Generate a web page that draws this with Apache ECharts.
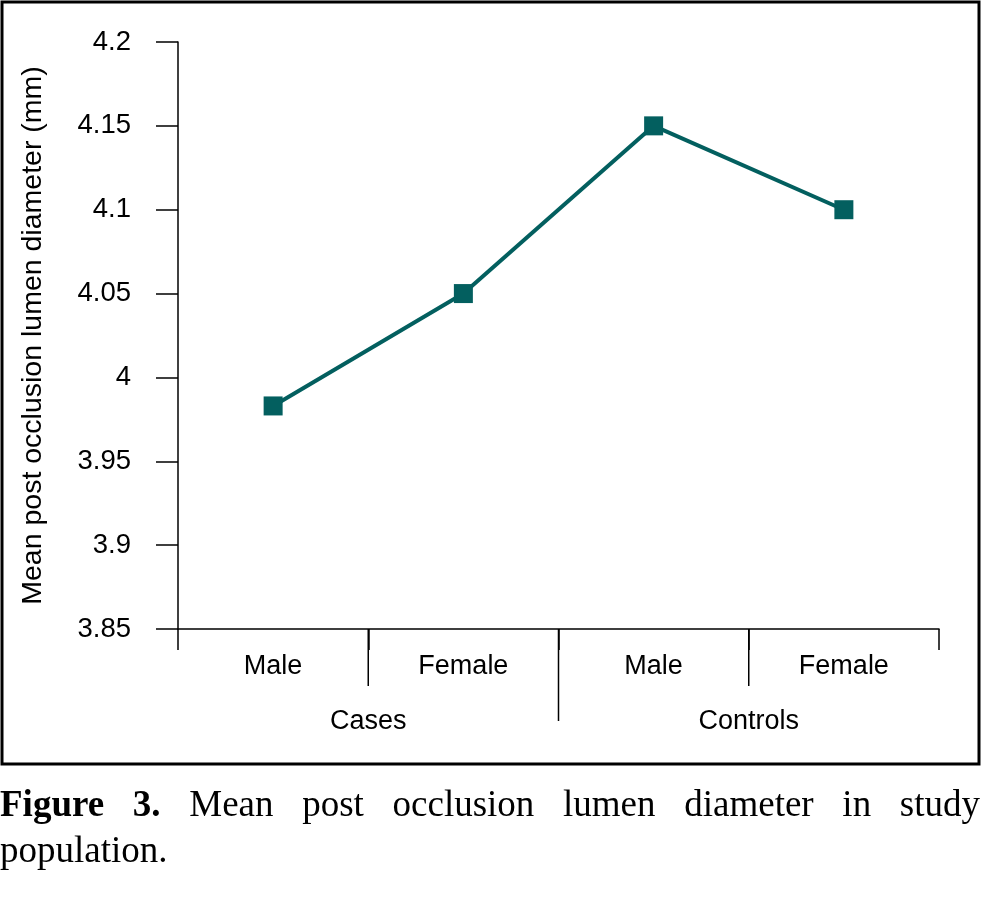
<!DOCTYPE html>
<html>
<head>
<meta charset="utf-8">
<script src="https://cdn.jsdelivr.net/npm/echarts@6/dist/echarts.min.js"></script>
<style>
  html, body { margin: 0; padding: 0; background: #fff; }
  #wrap { position: relative; width: 983px; height: 922px; }
  #chart { position: absolute; left: 0; top: 0; width: 983px; height: 922px; }
  #caption {
    position: absolute; left: 0; top: 781px; width: 980px;
    font-family: "Liberation Serif", "DejaVu Serif", serif;
    font-size: 37px; line-height: 46px; color: #000;
  }
  #caption .l1 { text-align: justify; text-align-last: justify; white-space: nowrap; }
  #caption .l2 { text-align: left; }
</style>
</head>
<body>
<div id="wrap">
  <div id="chart"></div>
  <div id="caption"><div class="l1"><b>Figure 3.</b> Mean post occlusion lumen diameter in study</div><div class="l2">population.</div></div>
</div>
<script>
// ---- data ----
var groups = ['Cases', 'Controls'];
var sexes = ['Male', 'Female'];
var meanDiameter = [3.983, 4.05, 4.15, 4.10]; // Cases-Male, Cases-Female, Controls-Male, Controls-Female
var yTickLabels = ['3.85', '3.9', '3.95', '4', '4.05', '4.1', '4.15', '4.2'];
var yName = 'Mean post occlusion lumen diameter (mm)';

// build categories (group|sex)
var categories = [];
var categoryGroup = [];
groups.forEach(function (g) {
  sexes.forEach(function (s) {
    categories.push(g + '|' + s);
    categoryGroup.push(g);
  });
});
// separators between adjacent categories
var separators = [];
for (var i = 1; i < categories.length; i++) {
  separators.push([i, categoryGroup[i] !== categoryGroup[i - 1] ? 1 : 0]);
}

var yMin = parseFloat(yTickLabels[0]);
var yMax = parseFloat(yTickLabels[yTickLabels.length - 1]);

var lineColor = '#035f5f';
var font = 'Liberation Sans, Arial, sans-serif';

var chart = echarts.init(document.getElementById('chart'), null, { renderer: 'canvas' });
chart.setOption({
  animation: false,
  backgroundColor: '#fff',
  grid: { left: 178, right: 44, top: 42, bottom: 293, containLabel: false },
  xAxis: [{
    type: 'category',
    data: categories,
    boundaryGap: true,
    position: 'bottom',
    axisLine: { show: true, lineStyle: { color: '#000', width: 1.5 } },
    axisTick: { show: true, length: 21, interval: 0, lineStyle: { color: '#000', width: 1.5 } },
    axisLabel: {
      interval: 0, margin: 24, color: '#000', fontSize: 27, fontFamily: font,
      formatter: function (v) { return v.split('|')[1]; }
    },
    splitLine: { show: false }
  }, {
    type: 'category',
    data: groups,
    position: 'bottom',
    offset: 0,
    gridIndex: 0,
    axisLine: { show: false },
    axisTick: { show: false },
    axisLabel: { interval: 0, margin: 79, color: '#000', fontSize: 27, fontFamily: font },
    splitLine: { show: false }
  }],
  yAxis: {
    type: 'value',
    min: yMin, max: yMax, interval: 0.05,
    name: yName,
    nameLocation: 'middle',
    nameGap: 130,
    nameRotate: 90,
    nameTextStyle: { color: '#000', fontSize: 28.5, fontFamily: font },
    axisLine: { show: true, lineStyle: { color: '#000', width: 1.5 } },
    axisTick: { show: true, length: 22, inside: false, lineStyle: { color: '#000', width: 1.5 } },
    axisLabel: {
      margin: 47, color: '#000', fontSize: 27.5, fontFamily: font,
      formatter: function (v) { return String(parseFloat(v.toFixed(2))); }
    },
    splitLine: { show: false }
  },
  graphic: [{
    type: 'rect',
    shape: { x: 2, y: 2, width: 977, height: 762 },
    style: { fill: 'none', stroke: '#000', lineWidth: 3 },
    silent: true, z: 100
  }],
  series: [{
    type: 'line',
    data: meanDiameter,
    symbol: 'rect',
    symbolSize: 19,
    itemStyle: { color: lineColor },
    lineStyle: { color: lineColor, width: 4 },
    z: 5
  }, {
    type: 'custom',
    xAxisIndex: 0, yAxisIndex: 0,
    data: separators,
    clip: false,
    silent: true,
    encode: { x: 0 },
    renderItem: function (params, api) {
      var idx = api.value(0);
      var long = api.value(1) === 1;
      var a = api.coord([idx - 1, yMin]);
      var b = api.coord([idx, yMin]);
      var x = (a[0] + b[0]) / 2;
      var y0 = a[1];
      return {
        type: 'line',
        shape: { x1: x, y1: y0, x2: x, y2: y0 + (long ? 92 : 57) },
        style: { stroke: '#000', lineWidth: 1.5 }
      };
    }
  }]
});
</script>
</body>
</html>
